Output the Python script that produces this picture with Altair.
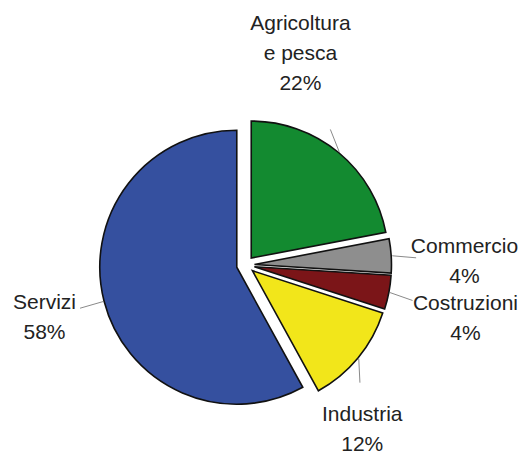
import altair as alt
import pandas as pd

# ---- data ----
categories = ["Agricoltura\ne pesca", "Commercio", "Costruzioni", "Industria", "Servizi"]
shares = [22, 4, 4, 12, 58]
colors = ["#138a30", "#8e8e8e", "#7b1518", "#f2e61a", "#35509f"]

# ---- layout (not data) ----
W, H = 510, 447
CX, CY = 237.5, 257.0
R = 137
EXPLODE = 9
LEAD = 24
LINE_H = 30
label_turn = [-25, 2.8, 3.0, 15.1, -0.5]   # degrees added to slice mid-angle
label_dist = [218, 219, 226.5, 202, 208]   # label-block centre distance from pie centre

df = pd.DataFrame({
    "idx": list(range(len(categories))),
    "cat": categories,
    "share": shares,
    "turn": label_turn,
    "dist": label_dist,
})

base = (
    alt.Chart(df)
    .transform_window(cum="sum(share)", sort=[alt.SortField("idx")], frame=[None, 0])
    .transform_joinaggregate(total="sum(share)")
    .transform_calculate(a0="(datum.cum - datum.share) / datum.total * 2 * PI")
    .transform_calculate(a1="datum.cum / datum.total * 2 * PI")
    .transform_calculate(mid="(datum.a0 + datum.a1) / 2")
    .transform_calculate(ex=f"{CX} + {EXPLODE} * sin(datum.mid)")
    .transform_calculate(ey=f"{CY} - {EXPLODE} * cos(datum.mid)")
    .transform_calculate(la="datum.mid + datum.turn * PI / 180")
    .transform_calculate(tx=f"{CX} + datum.dist * sin(datum.la)")
    .transform_calculate(ty=f"{CY} - datum.dist * cos(datum.la)")
    .transform_calculate(lab="datum.cat + '\\n' + datum.share + '%'")
    .transform_calculate(nl="length(split(datum.lab, '\\n'))")
    .transform_calculate(ty1=f"datum.ty - (datum.nl - 1) * {LINE_H / 2}")
    .transform_calculate(ax=f"datum.ex + {R + 1} * sin(datum.mid)")
    .transform_calculate(ay=f"datum.ey - {R + 1} * cos(datum.mid)")
    .transform_calculate(dd="sqrt(pow(datum.tx - datum.ax, 2) + pow(datum.ty - datum.ay, 2))")
    .transform_calculate(bx=f"datum.ax + {LEAD} * (datum.tx - datum.ax) / datum.dd")
    .transform_calculate(by=f"datum.ay + {LEAD} * (datum.ty - datum.ay) / datum.dd")
)

X = lambda f: alt.X(f, type="quantitative", scale=None, axis=None)
Y = lambda f: alt.Y(f, type="quantitative", scale=None, axis=None)

arcs = base.mark_arc(radius=R, stroke="#111111", strokeWidth=1.6).encode(
    x=X("ex"),
    y=Y("ey"),
    theta=alt.Theta("a0:Q", scale=None),
    theta2="a1:Q",
    color=alt.Color("cat:N", scale=alt.Scale(domain=categories, range=colors), legend=None),
)

leads = base.mark_rule(color="#8a8a8a", strokeWidth=1).encode(
    x=X("ax"), y=Y("ay"), x2="bx:Q", y2="by:Q"
)

labels = base.mark_text(
    align="center", baseline="middle", font="Liberation Sans", fontSize=21,
    lineHeight=LINE_H, lineBreak="\n", color="#222222",
).encode(x=X("tx"), y=Y("ty1"), text="lab:N")

chart = (
    alt.layer(arcs, leads, labels)
    .properties(width=W, height=H, padding=0, autosize="none")
    .configure_view(stroke=None)
)

chart.save("out.html", embed_options={"renderer": "svg", "actions": False})
